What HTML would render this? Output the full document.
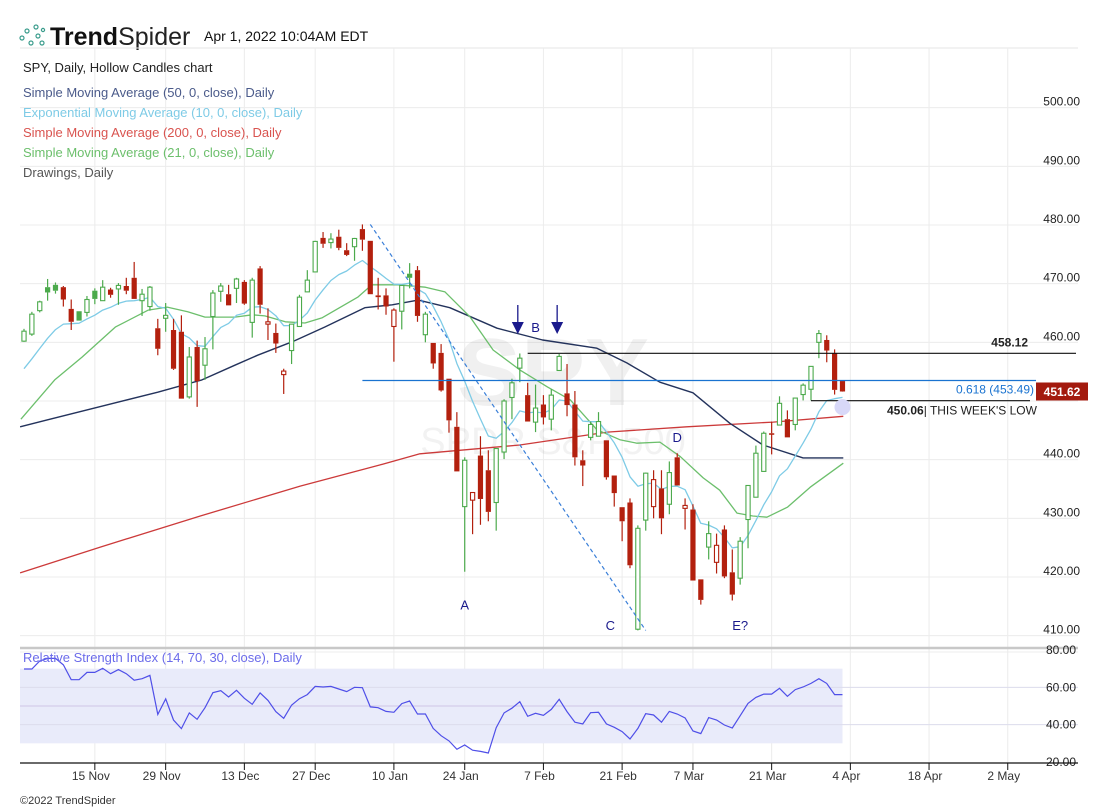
<!DOCTYPE html>
<html><head><meta charset="utf-8">
<style>
html,body{margin:0;padding:0;background:#fff;}
svg{display:block;font-family:"Liberation Sans",sans-serif;}
</style></head>
<body>
<svg id="chart" width="1106" height="809" viewBox="0 0 1106 809" xmlns="http://www.w3.org/2000/svg">
  <g id="header">
    <g fill="none" stroke="#3a9c8c" stroke-width="1.2">
      <circle cx="22" cy="38" r="2"/><circle cx="27" cy="31" r="2"/><circle cx="31" cy="43" r="2"/>
      <circle cx="36" cy="27" r="2"/><circle cx="38" cy="36" r="2"/><circle cx="42" cy="43" r="2"/><circle cx="43" cy="30" r="1.6"/>
    </g>
    <text x="50" y="45" font-size="25" fill="#111"><tspan font-weight="bold">Trend</tspan><tspan fill="#222">Spider</tspan></text>
    <text x="204" y="41" font-size="14" fill="#111">Apr 1, 2022 10:04AM EDT</text>
  </g>
  <g id="grid"></g>
  <g id="watermark">
    <text x="553" y="405" font-size="96" font-weight="bold" fill="#000" fill-opacity="0.06" text-anchor="middle">SPY</text>
    <text x="553" y="454" font-size="38" fill="#000" fill-opacity="0.05" text-anchor="middle">SPDR S&amp;P 500</text>
  </g>
  <g id="legend" font-size="13">
    <text x="23" y="72" fill="#222">SPY, Daily, Hollow Candles chart</text>
    <text x="23" y="97" fill="#4a5a8a">Simple Moving Average (50, 0, close), Daily</text>
    <text x="23" y="117" fill="#7ecbe6">Exponential Moving Average (10, 0, close), Daily</text>
    <text x="23" y="137" fill="#d9534f">Simple Moving Average (200, 0, close), Daily</text>
    <text x="23" y="157" fill="#6cbf6c">Simple Moving Average (21, 0, close), Daily</text>
    <text x="23" y="177" fill="#555">Drawings, Daily</text>
  </g>
  <g id="series"></g>
  <g id="candles"></g>
  <g id="drawings"></g>
  <g id="rsi"></g>
  <g id="axes"></g>
  <g id="tags"></g>
  <text x="20" y="804" font-size="11" fill="#333">©2022 TrendSpider</text>
</svg>
<script>
const opens=[460.2,461.4,465.4,469.4,469.8,469.4,465.7,465.3,465.1,468.8,467.1,469.0,469.1,469.6,471.0,467.1,466.1,462.4,464.1,462.1,461.8,450.7,459.2,456.1,464.4,468.7,468.2,469.2,470.3,463.4,472.6,463.1,461.6,454.5,458.6,462.7,468.6,472.0,477.8,477.0,478.0,475.7,476.3,479.3,477.3,468.0,468.0,462.7,465.3,471.7,472.3,461.3,459.9,458.2,453.8,445.6,432.0,433.1,440.7,438.2,432.7,441.3,450.6,455.6,451.0,446.4,449.4,446.9,455.2,451.3,449.4,439.9,443.8,444.0,443.3,437.3,431.9,432.7,411.1,429.7,432.0,435.1,432.4,440.4,431.7,431.5,419.6,425.1,422.5,428.1,420.8,419.8,429.8,433.6,438.0,444.5,445.9,446.9,446.0,451.1,452.0,460.0,460.4,458.1,453.4];
const highs=[462.3,465.2,467.1,470.8,470.2,469.6,467.3,465.3,467.9,469.2,470.6,469.3,470.1,471.0,473.7,469.1,469.6,464.0,466.7,464.0,464.6,459.2,460.3,460.9,468.9,470.1,469.8,471.0,470.6,471.0,473.0,465.8,463.2,455.5,463.1,468.1,472.3,477.3,478.8,478.6,479.2,476.9,477.8,480.1,477.3,471.0,469.2,465.8,469.7,473.5,473.0,465.2,459.8,459.7,453.8,448.1,440.4,434.4,444.0,441.6,441.9,450.3,453.8,458.1,453.1,452.8,451.0,452.0,458.0,456.3,451.7,441.6,446.5,448.1,443.3,437.3,431.9,433.4,428.8,437.8,438.2,438.2,439.7,441.1,433.4,432.4,419.6,429.5,427.4,428.8,424.7,426.8,435.6,442.4,444.8,446.5,450.8,448.4,450.5,453.0,455.9,462.1,461.2,458.8,453.4];
const lows=[460.1,461.1,465.1,467.1,468.3,466.1,462.1,463.7,464.4,466.5,467.1,467.6,466.4,468.2,467.4,464.5,465.4,457.8,461.8,455.3,450.4,450.4,449.0,453.6,458.8,466.9,466.3,466.7,466.4,460.8,464.9,460.4,458.2,451.2,456.3,462.7,468.6,472.0,476.1,476.0,475.7,474.7,473.9,475.6,468.2,465.6,464.7,456.7,462.2,469.2,463.5,460.0,455.5,451.6,444.6,438.0,420.9,427.3,428.9,429.5,427.9,440.1,446.9,453.2,446.5,444.7,446.0,445.0,455.2,447.4,439.0,435.5,443.3,444.0,436.6,432.0,426.1,421.5,410.9,427.9,430.0,427.3,430.7,435.6,428.1,419.4,415.3,423.0,420.6,419.8,416.0,418.7,424.9,433.6,438.0,440.9,445.9,443.8,445.0,450.1,450.1,457.3,456.6,451.1,451.6];
const closes=[461.9,464.8,466.9,468.5,468.8,467.3,463.5,463.7,467.3,467.4,469.4,468.1,469.7,468.8,467.4,468.2,469.4,458.9,464.6,455.5,450.4,457.5,453.4,458.9,468.4,469.6,466.3,470.8,466.6,470.6,466.4,463.5,459.8,455.1,463.1,467.7,470.6,477.2,476.8,477.6,476.1,474.9,477.7,477.5,468.2,467.7,466.1,465.5,469.7,471.0,464.5,464.8,456.4,451.8,446.7,438.0,439.9,434.4,433.3,431.1,441.9,450.0,453.1,457.3,446.5,448.8,447.2,451.0,457.6,449.3,440.4,439.0,446.0,446.5,437.0,434.3,429.5,422.0,428.3,437.7,436.6,430.0,437.8,435.6,432.2,419.4,416.1,427.4,425.4,420.1,417.0,426.1,435.6,441.1,444.5,444.3,449.6,443.8,450.5,452.7,455.9,461.5,458.6,451.9,451.62];
const emaSeed=455.5;
const sma50Idx=[-0.5,3,11.6,17,22.6,26.8,29.7,34.1,38.2,43.3,46.8,50.1,54.1,60.1,65.9,72.8,76.6,80.8,85,89.7,93.9,99,104.1];
const sma50Val=[445.6,446.8,449.7,451.5,453.6,456.1,457.8,460.1,462.6,465.9,466.4,467.2,465.9,462.4,460.4,459.0,456.5,453.2,451.4,446.2,442.5,440.3,440.3];
const sma21Idx=[-0.4,3.9,7.4,11.6,15.8,18.2,20.8,23,26.8,29,30.6,33.2,35.7,37.9,42.4,44.2,47.5,51,53.5,56.7,59.6,63,66.5,69.4,72.8,75.7,77.9,80.8,83.4,86.3,88.4,90.6,92.6,94.4,97,99.9,104.1];
const sma21Val=[446.9,453.6,457.5,462.6,465.5,466.0,465.2,464.3,464.3,464.7,464.5,463.5,463.3,464.2,467.7,469.8,469.8,469.4,468.6,464.3,458.7,455.3,452.4,450.2,445.1,443.4,442.8,443.0,440.5,436.9,434.8,430.9,430.4,430.2,431.9,435.3,439.4];
const sma200Idx=[-0.5,9.7,22.4,35.1,45.2,50.3,63,74.1,84.2,95.2,104.1];
const sma200Val=[420.7,425.1,430.4,435.5,439.1,441.0,442.5,444.7,445.6,446.4,447.4];
const rsiVals=[69.8,69.8,74.1,75.5,75.5,72.0,64.1,64.1,68.0,68.0,70.2,67.3,69.5,67.3,63.8,64.6,66.4,45.5,53.8,42.5,37.9,46.3,42.9,49.1,57.1,58.2,54.8,58.4,54.1,50.9,57.0,53.0,47.0,43.4,50.5,53.9,56.1,60.5,60.2,60.5,59.1,57.7,60.0,59.8,49.5,49.1,47.1,46.6,51.3,52.7,45.7,45.7,38.0,34.1,31.3,26.8,29.1,26.3,25.7,24.8,38.4,46.3,48.8,52.3,44.5,46.1,45.0,48.2,53.6,47.0,41.3,40.4,46.4,46.6,40.4,38.6,36.3,32.3,38.0,45.9,45.2,41.3,47.1,45.7,43.6,36.6,35.2,43.8,42.5,39.8,38.2,44.8,51.4,54.6,56.4,56.4,59.5,55.2,58.8,60.2,62.1,64.6,62.1,56.1,56.1];
const priceTicks=[410,420,430,440,450,460,470,480,490,500];
const rsiTicks=[80,60,40,20];
const dateLabels=["15 Nov","29 Nov","13 Dec","27 Dec","10 Jan","24 Jan","7 Feb","21 Feb","7 Mar","21 Mar","4 Apr","18 Apr","2 May"];
const dateIdx=[9,18,28,37,47,56,66,76,85,95,105,115,125];
const trendIdx=[44,79];
const trendVal=[480.1,410.9];
const fibLevel=453.49;
const resistLevel=458.12;
const weekLow=450.06;
const lastPrice=451.62;
const annotLabels=["A","B","C","D","E?"];
const annotIdx=[56,65,74.5,83,91];
const annotVal=[414.5,461.8,411,443,411];
const arrowIdx=[63,68];

const NS="http://www.w3.org/2000/svg";
const X=i=>24+i*7.87;
const Y=p=>401-(p-450)*5.867;
const RY=r=>706-(r-50)*1.867;
function mk(tag,attrs,parent){const e=document.createElementNS(NS,tag);for(const k in attrs)e.setAttribute(k,attrs[k]);parent.appendChild(e);return e;}
const grid=document.getElementById('grid'),series=document.getElementById('series'),candles=document.getElementById('candles'),draw=document.getElementById('drawings'),rsi=document.getElementById('rsi'),axes=document.getElementById('axes'),tags=document.getElementById('tags');

mk('line',{x1:20,x2:1078,y1:48,y2:48,stroke:'#e6e6e6'},grid);
dateIdx.forEach((d,k)=>{
  const x=X(d);
  const l=mk('line',{x1:x,x2:x,y1:48,y2:763,stroke:'#ececec'},grid);
  
  
  const t=mk('line',{x1:x,x2:x,y1:763,y2:770,stroke:'#111'},axes);
  
  
  const tx=mk('text',{x:x-4,y:780,'font-size':12,fill:'#333','text-anchor':'middle'},axes);
  tx.textContent=dateLabels[k];
  
  
});
priceTicks.forEach(p=>{
  const y=Y(p);
  const l=mk('line',{x1:20,x2:1078,y1:y,y2:y,stroke:'#ececec'},grid);
  
  
  const t=mk('text',{x:1080,y:y-2,'font-size':12,fill:'#222','text-anchor':'end'},axes);
  t.textContent=p.toFixed(2);
  
  
});

function poly(xs,ys,color,name,w){
  const pts=xs.map((v,k)=>X(v).toFixed(1)+','+Y(ys[k]).toFixed(1)).join(' ');
  const e=mk('polyline',{points:pts,fill:'none',stroke:color,'stroke-width':w||1.3,'stroke-linejoin':'round'},series);
  
  
}
poly(sma200Idx,sma200Val,'#cc3a3a','sma200-line');
poly(sma50Idx,sma50Val,'#24335c','sma50-line',1.4);
poly(sma21Idx,sma21Val,'#6cbf6c','sma21-line');
const ema=[];let e0=emaSeed;closes.forEach((c,i)=>{if(i>0)e0=e0+(2/11)*(c-e0);ema.push(e0);});
poly(closes.map((c,i)=>i),ema,'#7ecbe6','ema10-line');

closes.forEach((c,i)=>{
  const o=opens[i],prev=i>0?closes[i-1]:o;
  const color=c>=prev?'#4caa4c':'#b3200e';
  const filled=c<o;
  const x=X(i);
  const hi=Math.max(highs[i],o,c),lo=Math.min(lows[i],o,c);
  const top=Y(Math.max(o,c)),bot=Y(Math.min(o,c));
  const g=mk('g',{},candles);
  
  
  mk('line',{x1:x,x2:x,y1:Y(hi),y2:top,stroke:color,'stroke-width':1.2},g);
  mk('line',{x1:x,x2:x,y1:bot,y2:Y(lo),stroke:color,'stroke-width':1.2},g);
  if(filled){mk('rect',{x:x-2.6,y:top,width:5.2,height:Math.max(1.5,bot-top),fill:color},g);}
  else{mk('rect',{x:x-2.1,y:top,width:4.2,height:Math.max(1,bot-top),fill:'#fff',stroke:color,'stroke-width':1.1},g);}
});

const tl=mk('line',{x1:X(trendIdx[0]),y1:Y(trendVal[0]),x2:X(trendIdx[1]),y2:Y(trendVal[1]),stroke:'#3a7fd8','stroke-width':1.2,'stroke-dasharray':'4,3'},draw);


const fl=mk('line',{x1:X(43),x2:1036,y1:Y(fibLevel),y2:Y(fibLevel),stroke:'#1a73d0','stroke-width':1.2},draw);


const fll=mk('text',{x:1034,y:Y(fibLevel)+13,'font-size':12,fill:'#1a73d0','text-anchor':'end'},draw);
fll.textContent='0.618 (453.49)';


const rl=mk('line',{x1:X(64),x2:1076,y1:Y(resistLevel),y2:Y(resistLevel),stroke:'#111','stroke-width':1.1},draw);


const rll=mk('text',{x:1028,y:Y(resistLevel)-7,'font-size':12,'font-weight':'bold',fill:'#222','text-anchor':'end'},draw);
rll.textContent=resistLevel.toFixed(2);


const wl=mk('line',{x1:X(100),x2:1030,y1:Y(weekLow),y2:Y(weekLow),stroke:'#111','stroke-width':1.1},draw);


const wll=mk('text',{x:887,y:Y(weekLow)+14,'font-size':12,fill:'#222'},draw);
wll.innerHTML='<tspan font-weight="bold">'+weekLow.toFixed(2)+'</tspan>| THIS WEEK\'S LOW';


const circ=mk('circle',{cx:X(104),cy:Y(weekLow)+6.5,r:8,fill:'#d8d8f8'},draw);


annotLabels.forEach((s,k)=>{
  const t=mk('text',{x:X(annotIdx[k]),y:Y(annotVal[k]),'font-size':13,fill:'#1a1a8c','text-anchor':'middle'},draw);
  t.textContent=s;
  
  
});
arrowIdx.forEach(i=>{
  const x=X(i)-2;
  const g=mk('g',{},draw);
  
  
  mk('line',{x1:x,x2:x,y1:305,y2:326,stroke:'#1a1a8c','stroke-width':1.3},g);
  mk('polygon',{points:`${x-6},${322} ${x+6},${322} ${x},${334}`,fill:'#1a1a8c'},g);
});

mk('line',{x1:20,x2:1078,y1:648,y2:648,stroke:'#c8c8c8','stroke-width':2.5},rsi);
mk('line',{x1:20,x2:1078,y1:652,y2:652,stroke:'#ececec'},rsi);
const band=mk('rect',{x:20,y:RY(70),width:X(104)-20,height:RY(30)-RY(70),fill:'#e9ebfa'},rsi);


[60,40].forEach(r=>mk('line',{x1:20,x2:1078,y1:RY(r),y2:RY(r),stroke:'#dcdcec'},rsi));
mk('line',{x1:20,x2:X(104),y1:RY(50),y2:RY(50),stroke:'#cfc4e6'},rsi);
rsiTicks.forEach(r=>{
  const t=mk('text',{x:1076,y:RY(r)+4,'font-size':12,fill:'#222','text-anchor':'end'},rsi);
  t.textContent=r.toFixed(2);
  
  
});
const rl2=mk('polyline',{points:rsiVals.map((v,i)=>X(i).toFixed(1)+','+RY(v).toFixed(1)).join(' '),fill:'none',stroke:'#4f4fe8','stroke-width':1.2},rsi);


const rt=mk('text',{x:23,y:662,'font-size':13,fill:'#6b6bea'},rsi);
rt.textContent='Relative Strength Index (14, 70, 30, close), Daily';


const ax=mk('line',{x1:20,x2:1078,y1:763,y2:763,stroke:'#111','stroke-width':1.2},axes);



const tagY=Y(lastPrice);
const tag=mk('g',{},tags);


mk('rect',{x:1036,y:tagY-9,width:52,height:18,fill:'#a31a0e'},tag);
const tagT=mk('text',{x:1062,y:tagY+4.5,'font-size':12,'font-weight':'bold',fill:'#fff','text-anchor':'middle'},tag);
tagT.textContent=lastPrice.toFixed(2);
</script>
</body></html>
